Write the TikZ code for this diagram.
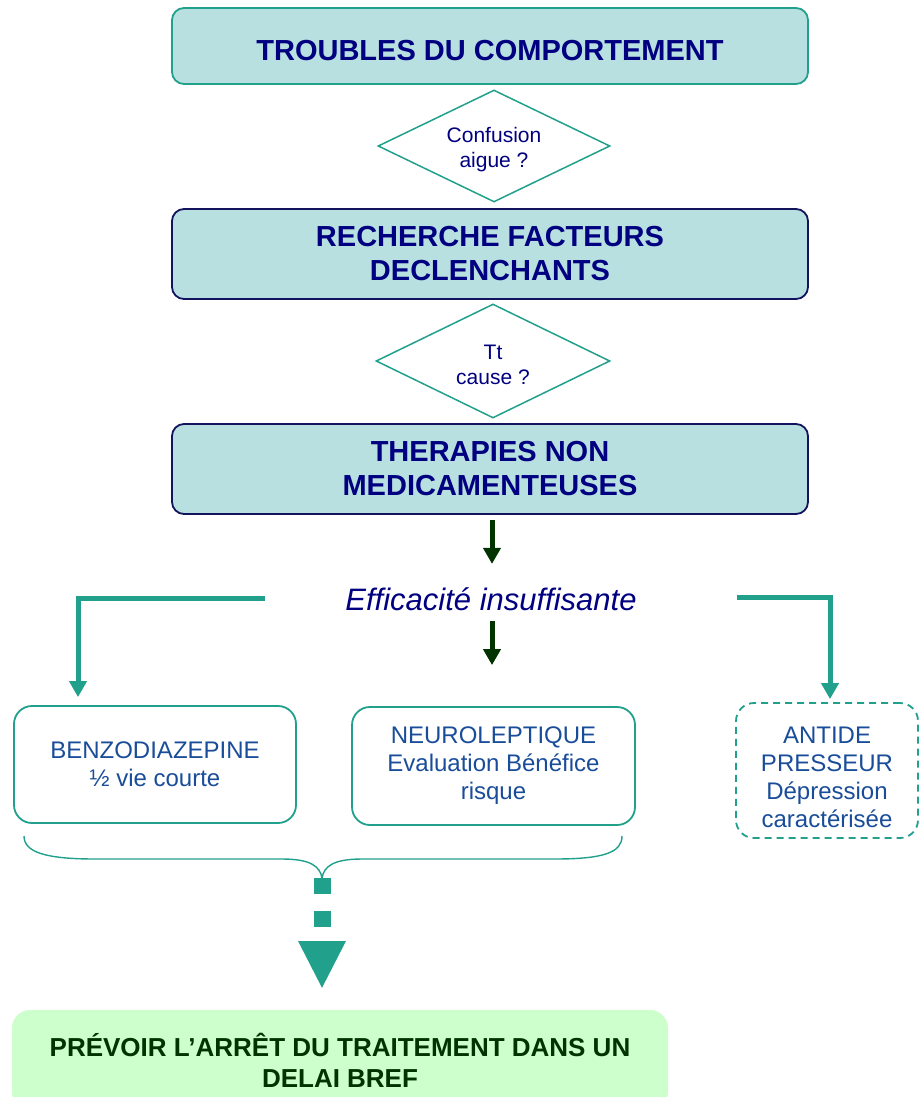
\documentclass[tikz,border=0pt]{standalone}
\usepackage{fontspec}
\setmainfont{Liberation Sans}
\usetikzlibrary{shapes.geometric,arrows.meta,calc}
\definecolor{teal1}{HTML}{21A08C}
\definecolor{tealfill}{HTML}{B8E0E0}
\definecolor{navy}{HTML}{000080}
\definecolor{navyb}{HTML}{14145E}
\definecolor{blueT}{HTML}{1A4D99}
\definecolor{dgreen}{HTML}{003300}
\definecolor{lgreen}{HTML}{CCFFCC}
\begin{document}
\begin{tikzpicture}[x=1pt,y=-1pt,
  bigbox/.style={rounded corners=12pt, fill=tealfill, line width=1.8pt, minimum width=636pt,
     align=center, font=\fontsize{29}{34}\selectfont\bfseries, text=navy, inner sep=0pt},
  titletext/.style={align=center, font=\fontsize{29}{34}\selectfont\bfseries, text=navy, inner sep=0pt},
  dia/.style={diamond, aspect=2.07, draw=teal1, line width=1.5pt, fill=white, inner sep=0pt},
  diatext/.style={align=center, font=\fontsize{21}{25}\selectfont, text=navy, inner sep=0pt},
  smallbox/.style={rounded corners=18pt, draw=teal1, line width=1.8pt, fill=white,
     align=center, font=\fontsize{24}{28}\selectfont, text=blueT, inner sep=0pt},
  darrow/.style={draw=dgreen, line width=5pt, -{Triangle[width=17pt,length=16pt]}},
  tarrow/.style={draw=teal1, line width=5pt, -{Triangle[width=17pt,length=16pt]}},
]
\useasboundingbox (0,0) rectangle (921,1097);
\clip (0,0) rectangle (921,1097);

% top boxes
\node[bigbox, draw=teal1, minimum height=76pt] (b1) at (490,46) {};
\node[titletext] (b1t) at (490,51) {TROUBLES DU COMPORTEMENT};
\node[dia, minimum width=232pt, minimum height=112pt] (d1) at (494,146) {};
\node[diatext] (d1t) at (494,150) {Confusion\\aigue ?};
\node[bigbox, draw=navyb, minimum height=90pt] (b2) at (490,254) {RECHERCHE FACTEURS\\DECLENCHANTS};
\node[dia, minimum width=234pt, minimum height=114pt] (d2) at (493,361) {};
\node[diatext] (d2t) at (493,365) {Tt\\cause ?};
\node[bigbox, draw=navyb, minimum height=90pt] (b3) at (490,469) {THERAPIES NON\\MEDICAMENTEUSES};

% efficacite
\node[font=\fontsize{31}{36}\selectfont\itshape, text=navy, inner sep=0pt] (eff) at (491,599) {Efficacité insuffisante};

% lower boxes
\node[smallbox, minimum width=282pt, minimum height=117pt] (benzo) at (155,764.5) {BENZODIAZEPINE\\½ vie courte};
\node[smallbox, minimum width=283pt, minimum height=118pt] (neuro) at (493.5,766) {NEUROLEPTIQUE\\Evaluation Bénéfice\\risque};
\node[smallbox, dashed, dash pattern=on 7pt off 5pt, minimum width=182pt, minimum height=135pt] (antide) at (827,770.5) {};
\node[align=center, font=\fontsize{24}{28}\selectfont, text=blueT, inner sep=0pt] (antidet) at (827,777.5) {ANTIDE\\PRESSEUR\\Dépression\\caractérisée};

% final box
\node[rounded corners=18pt, fill=lgreen, minimum width=656pt, minimum height=100pt, inner sep=0pt,
      align=center, font=\fontsize{26}{31}\selectfont\bfseries, text=dgreen] (fin) at (340,1060)
      {PRÉVOIR L’ARRÊT DU TRAITEMENT DANS UN\\DELAI BREF};

% dark green arrows
\draw[darrow] ($(b3.south)+(2,5)$) -- ($(b3.south)+(2,49)$);
\draw[darrow] ($(neuro.north)+(-1.5,-85)$) -- ($(neuro.north)+(-1.5,-41)$);

% teal elbow arrows
\coordinate (lstart) at (265,598);
\coordinate (rstart) at (737,597);
\draw[tarrow] (lstart) -| ($(benzo.north)+(-77,-8)$);
\draw[tarrow] (rstart) -| ($(antide.north)+(3,-3)$);

% brace
\coordinate (bt) at (322,878);
\draw[teal1, line width=1.4pt]
  (24,836) .. controls (24,852) and (45,859) .. (95,859) -- (282,859)
  .. controls (310,859) and (320,866) .. (bt)
  .. controls (324,866) and (334,859) .. (362,859) -- (555,859)
  .. controls (605,859) and (622,852) .. (622,836);

% dashed arrow to final box
\fill[teal1] (314,878) rectangle (331,894);
\fill[teal1] (314,911) rectangle (331,927);
\fill[teal1] (298,941) -- (346,941) -- ($(fin.north)+(-18,-22)$) -- cycle;
\end{tikzpicture}
\end{document}
